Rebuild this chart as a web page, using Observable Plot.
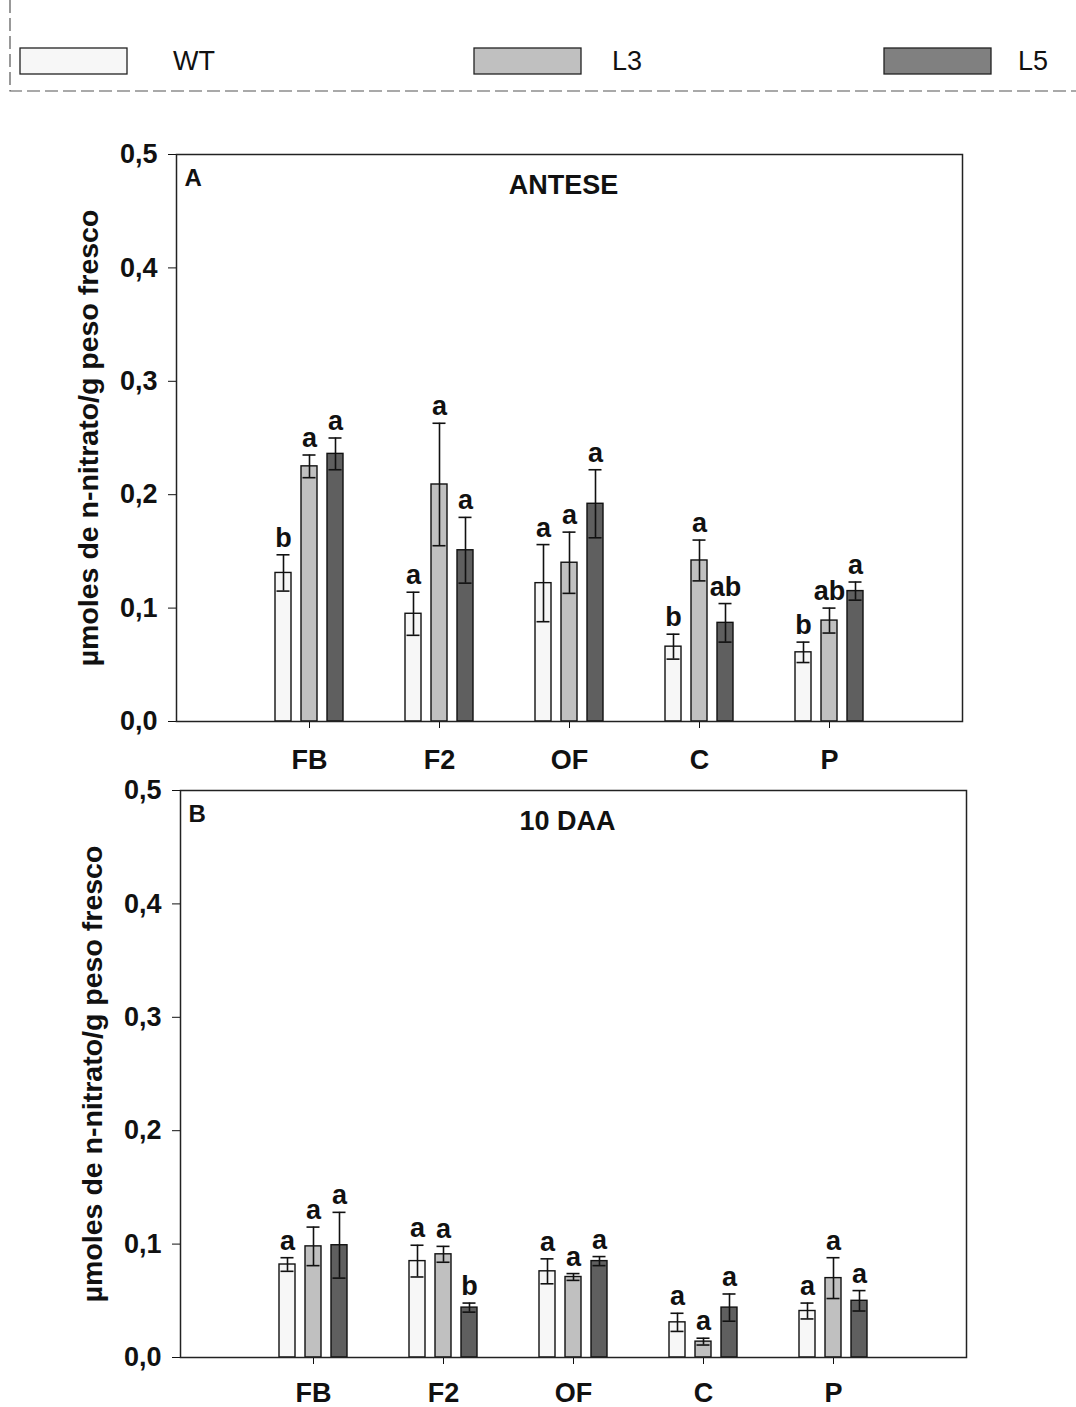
<!DOCTYPE html>
<html><head><meta charset="utf-8">
<script src="https://cdn.jsdelivr.net/npm/d3@7"></script>
<script src="https://cdn.jsdelivr.net/npm/@observablehq/plot@0.6"></script>
<style>
body{margin:0;background:#fff;font-family:"Liberation Sans",Arial,sans-serif;}
#root{position:relative;width:1076px;height:1407px;overflow:hidden;}
#root > svg{position:absolute;left:0;}
</style></head><body><div id="root"></div>
<script>
// ---- data ----
const categories = ["FB", "F2", "OF", "C", "P"];
const seriesNames = ["WT", "L3", "L5"];
const barColors = ["#f7f7f7", "#c0c0c0", "#5f5f5f"];
const legendColors = ["#f7f7f7", "#c0c0c0", "#808080"];
const yTicks = [0, 0.1, 0.2, 0.3, 0.4, 0.5];
const yLabel = "µmoles de n-nitrato/g peso fresco";

// Panel A: ANTESE
const anteseWT = [0.131, 0.095, 0.122, 0.066, 0.061];
const anteseL3 = [0.225, 0.209, 0.140, 0.142, 0.089];
const anteseL5 = [0.236, 0.151, 0.192, 0.087, 0.115];
const anteseWTerr = [0.016, 0.019, 0.034, 0.011, 0.009];
const anteseL3err = [0.010, 0.054, 0.027, 0.018, 0.011];
const anteseL5err = [0.014, 0.029, 0.030, 0.017, 0.008];
const anteseWTsig = ["b", "a", "a", "b", "b"];
const anteseL3sig = ["a", "a", "a", "a", "ab"];
const anteseL5sig = ["a", "a", "a", "ab", "a"];

// Panel B: 10 DAA
const daaWT = [0.082, 0.085, 0.076, 0.031, 0.041];
const daaL3 = [0.098, 0.091, 0.071, 0.014, 0.070];
const daaL5 = [0.099, 0.044, 0.085, 0.044, 0.050];
const daaWTerr = [0.006, 0.014, 0.011, 0.008, 0.007];
const daaL3err = [0.017, 0.007, 0.003, 0.003, 0.018];
const daaL5err = [0.029, 0.004, 0.004, 0.012, 0.009];
const daaWTsig = ["a", "a", "a", "a", "a"];
const daaL3sig = ["a", "a", "a", "a", "a"];
const daaL5sig = ["a", "b", "a", "a", "a"];

function buildRows(series, means, errs, sigs) {
  return categories.map((c, i) => ({cat: c, series, mean: means[i], err: errs[i], sig: sigs[i]}));
}
const anteseData = [
  ...buildRows("WT", anteseWT, anteseWTerr, anteseWTsig),
  ...buildRows("L3", anteseL3, anteseL3err, anteseL3sig),
  ...buildRows("L5", anteseL5, anteseL5err, anteseL5sig)
];
const daaData = [
  ...buildRows("WT", daaWT, daaWTerr, daaWTsig),
  ...buildRows("L3", daaL3, daaL3err, daaL3sig),
  ...buildRows("L5", daaL5, daaL5err, daaL5sig)
];

const root = document.getElementById("root");
const FONT = '"Liberation Sans", Arial, sans-serif';

// ---- legend ----
const leg = d3.create("svg").attr("width", 1076).attr("height", 100).style("top", "0px");
leg.append("path").attr("d", "M10,0V91H1076").attr("fill", "none")
  .attr("stroke", "#555").attr("stroke-width", 1.2).attr("stroke-dasharray", "13,5");
const legX = [20, 474, 884];
const legTextX = [173, 612, 1018];
seriesNames.forEach((s, i) => {
  leg.append("rect").attr("x", legX[i]).attr("y", 48).attr("width", 107).attr("height", 26)
    .attr("fill", legendColors[i]).attr("stroke", "#222").attr("stroke-width", 1.3);
  leg.append("text").attr("x", legTextX[i]).attr("y", 70).text(s)
    .attr("font-family", FONT).attr("font-size", 27).attr("fill", "#111");
});
root.appendChild(leg.node());

// ---- panels ----
function panel({data, title, letter, top, height, marginTop, marginBottom, marginLeft, marginRight, xPad}) {
  const marks = [];
  seriesNames.forEach((s, i) => {
    const d = data.filter(r => r.series === s);
    const dx = (i - 1) * 26;
    marks.push(Plot.barY(d, {x: "cat", y: "mean", fill: "series", stroke: "#111", strokeWidth: 1.4, dx}));
    marks.push(Plot.ruleX(d, {x: "cat", y1: r => r.mean - r.err, y2: r => r.mean + r.err, stroke: "#111", strokeWidth: 1.6, dx}));
    marks.push(Plot.tickY(d, {x: "cat", y: r => r.mean + r.err, stroke: "#111", strokeWidth: 1.6, insetLeft: 1.5, insetRight: 1.5, dx}));
    marks.push(Plot.tickY(d, {x: "cat", y: r => r.mean - r.err, stroke: "#111", strokeWidth: 1.6, insetLeft: 1.5, insetRight: 1.5, dx}));
    marks.push(Plot.text(d, {x: "cat", y: r => r.mean + r.err, text: "sig", dx, dy: -8, lineAnchor: "bottom", fontSize: 27, fontWeight: "bold", fill: "#111"}));
  });
  marks.push(Plot.text([title], {frameAnchor: "top", text: d => d, dx: -6, dy: 20, lineAnchor: "top", fontSize: 27, fontWeight: "bold", fill: "#111"}));
  marks.push(Plot.text([letter], {frameAnchor: "top-left", text: d => d, dx: 8, dy: 14, textAnchor: "start", lineAnchor: "top", fontSize: 24, fontWeight: "bold", fill: "#111"}));
  marks.push(Plot.text([yLabel], {frameAnchor: "left", text: d => d, dx: -88, rotate: -90, textAnchor: "middle", lineAnchor: "middle", fontSize: 28.5, fontWeight: "bold", fill: "#111"}));
  marks.push(Plot.frame({stroke: "#222", strokeWidth: 1.5}));
  const svg = Plot.plot({
    width: 1076, height, marginTop, marginBottom, marginLeft, marginRight,
    style: {background: "transparent", fontFamily: FONT, fontSize: "27px", fontWeight: "bold", color: "#111", overflow: "visible"},
    x: {domain: categories, paddingInner: 0.8774, paddingOuter: 0.95, tickSize: 7, tickPadding: xPad, label: null},
    y: {domain: [0, 0.5], ticks: yTicks, tickFormat: v => v.toFixed(1).replace(".", ","), tickSize: 8, tickPadding: 11, label: null},
    color: {domain: seriesNames, range: barColors},
    marks
  });
  svg.style.top = top + "px";
  svg.style.position = "absolute";
  root.appendChild(svg);
}

panel({data: anteseData, title: "ANTESE", letter: "A", top: 110, height: 665, marginTop: 44, marginBottom: 54, marginLeft: 176, marginRight: 114, xPad: 21});
panel({data: daaData, title: "10 DAA", letter: "B", top: 775, height: 630, marginTop: 15, marginBottom: 48, marginLeft: 180, marginRight: 110, xPad: 18});
</script>
</body></html>
